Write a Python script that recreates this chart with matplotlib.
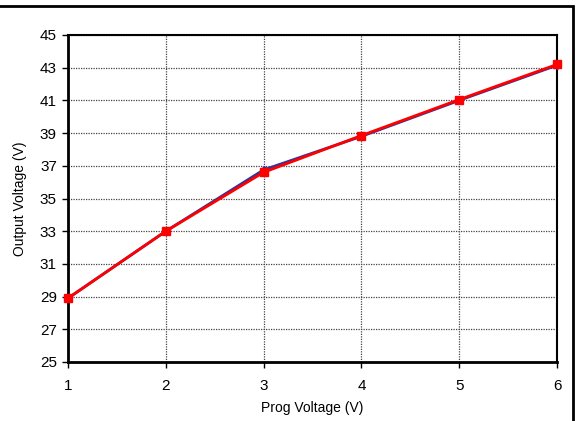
import matplotlib.pyplot as plt
from matplotlib.patches import Rectangle

prog_voltage = [1, 2, 3, 4, 5, 6]
output_blue = [28.9, 33.0, 36.75, 38.8, 41.0, 43.15]
output_red = [28.9, 33.0, 36.6, 38.85, 41.05, 43.2]

plt.rcParams['font.family'] = ['Liberation Sans', 'DejaVu Sans']

fig = plt.figure(figsize=(5.76, 4.21), dpi=100)
W, H = 576, 421
ax = fig.add_axes([68 / W, 1 - 362 / H, (557 - 68) / W, (362 - 35) / H])

# outer chart border (only top and right visible in the crop)
fig.patches.append(Rectangle((-0.01, -0.01), 573 / W + 0.01, 1 - 6 / H + 0.01,
                             transform=fig.transFigure, fill=False,
                             edgecolor='black', linewidth=2))

ax.plot(prog_voltage, output_blue, color='#333399', linewidth=2,
        marker='D', markersize=4, zorder=3, clip_on=False)
ax.plot(prog_voltage, output_red, color='#ff0000', linewidth=2,
        marker='s', markersize=6, zorder=4, clip_on=False)

ax.set_xlim(1, 6)
ax.set_ylim(25, 45)
ax.set_xticks(prog_voltage)
ax.set_yticks(range(25, 46, 2))
ax.grid(True, color='#444444', linestyle=(0, (1, 1)), linewidth=0.9)
ax.set_axisbelow(True)

for side in ['left', 'bottom']:
    ax.spines[side].set_linewidth(2)
for side in ['top', 'right']:
    ax.spines[side].set_linewidth(1.5)

ax.tick_params(direction='out', length=4, width=1, labelsize=11)
ax.tick_params(axis='x', pad=8)
ax.tick_params(axis='y', pad=4)
ax.set_xlabel('Prog Voltage (V)', fontsize=10, labelpad=6)
ax.set_ylabel('Output Voltage (V)', fontsize=10, labelpad=9)

fig.savefig('out.png', dpi=100)
